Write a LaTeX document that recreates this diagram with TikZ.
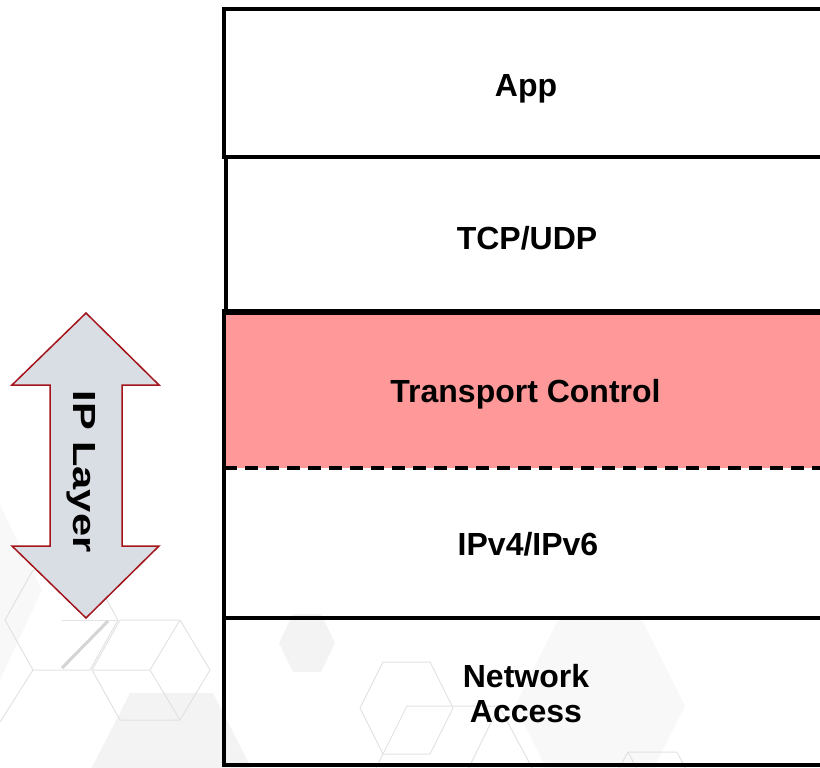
\documentclass[tikz,border=0pt]{standalone}
\usepackage{fontspec}
\setmainfont{Liberation Sans}
\definecolor{ctrlfill}{HTML}{FF9999}
\definecolor{arrowfill}{HTML}{D9DDE4}
\definecolor{arrowedge}{HTML}{A3151B}
\definecolor{hexstroke}{HTML}{E2E2E2}
\definecolor{hexshade}{HTML}{F3F3F3}
\definecolor{hexfaint}{HTML}{F8F8F8}
\begin{document}
\begin{tikzpicture}[x=1pt,y=-1pt,
  layer/.style={minimum width=603pt, inner sep=0pt},
  caption/.style={inner sep=0pt, anchor=base, align=center,
    font=\fontsize{32}{35}\selectfont\bfseries},
  frame/.style={draw=black, line width=4pt},
  edge/.style={draw=black, line width=4pt, line cap=rect},
  dashedge/.style={draw=black, line width=3.5pt, dash pattern=on 13pt off 8pt},
  hexline/.style={draw=hexstroke, line width=1pt, line join=round},
  hexsolid/.style={fill=hexshade},
  hexpale/.style={fill=hexfaint},
  bigarrow/.style={fill=arrowfill, draw=arrowedge, line width=1.5pt, line join=miter},
]
\useasboundingbox (0,0) rectangle (820,768);

% faint hexagon pattern in the background
\begin{scope}
  \clip (0,0) rectangle (820,768);
  \path[hexpale] (-90,505) -- (0,505) -- (42,590) -- (0,680) -- (-90,680) -- cycle;
  \path[hexpale] (515,706) -- (560,616) -- (640,616) -- (685,706) -- (640,796) -- (560,796) -- cycle;
  \path[hexsolid] (130,693) -- (213,693) -- (260,785) -- (83,785) -- cycle;
  \path[hexsolid] (279,643) -- (293,614) -- (321,614) -- (335,643) -- (321,672) -- (293,672) -- cycle;
  % outlined cells
  \draw[hexline] (5,620) -- (33,570) -- (90,570) -- (118,620) -- (90,670) -- (33,670) -- cycle;
  \draw[hexline] (62,620) -- (118,620);
  \draw[hexline] (33,670) -- (0,722);
  \draw[draw=black!17, line width=3pt] (108,621) -- (62,668);
  \draw[hexline] (92,670) -- (120,620) -- (180,620) -- (210,670) -- (180,720) -- (120,720) -- cycle;
  \draw[hexline] (92,670) -- (150,670) -- (180,620);
  \draw[hexline] (150,670) -- (180,720);
  \draw[hexline] (360,708) -- (383,662) -- (430,662) -- (453,708) -- (430,754) -- (383,754) -- cycle;
  \draw[hexline] (383,754) -- (407,706) -- (499,706);
  \draw[hexline] (457,792) -- (499,706) -- (545,792);
  \draw[hexline] (383,754) -- (364,792);
  \draw[hexline] (606,792) -- (628,752) -- (677,752) -- (698,792);
  \draw[hexline] (628,752) -- (649,792);
\end{scope}

% protocol layers
\node[layer, minimum height=157pt, fill=ctrlfill] (ctrl) at (525.5,389.5) {};
\node[layer, minimum height=148pt, frame] (app) at (525.5,83) {};
\node[layer, minimum height=154pt, frame, minimum width=601pt] (tcp) at (526.5,234) {};
\node[layer, minimum height=150pt] (ipv) at (525.5,543) {};
\node[layer, minimum height=147pt, frame] (net) at (525.5,691.5) {};

\draw[edge] (ctrl.north west) -- (ctrl.south west);
\draw[edge] (tcp.south west) -- (tcp.south east);
\draw[edge] (ipv.north west) -- (ipv.south west);
\draw[dashedge] (ctrl.south west) -- (ctrl.south east);

% layer names
\node[caption] (apptext) at (526,96) {App};
\node[caption] (tcptext) at (527,249) {TCP/UDP};
\node[caption] (ctrltext) at (525.5,402) {Transport Control};
\node[caption] (ipvtext) at (528,555) {IPv4/IPv6};
\node[caption] (nettext) at (526,722) {Network\\Access};

% double-headed arrow marking the IP layer
\path[bigarrow] (86,313) -- (159,385) -- (122,385) -- (122,546) -- (159,546)
  -- (86,618) -- (12,546) -- (50,546) -- (50,385) -- (12,385) -- cycle;
\node[rotate=-90, inner sep=0pt, font=\fontsize{32}{35}\selectfont\bfseries]
  (iplabel) at (81,471.5) {\scalebox{1.3}[1]{IP Layer}};
\end{tikzpicture}
\end{document}
